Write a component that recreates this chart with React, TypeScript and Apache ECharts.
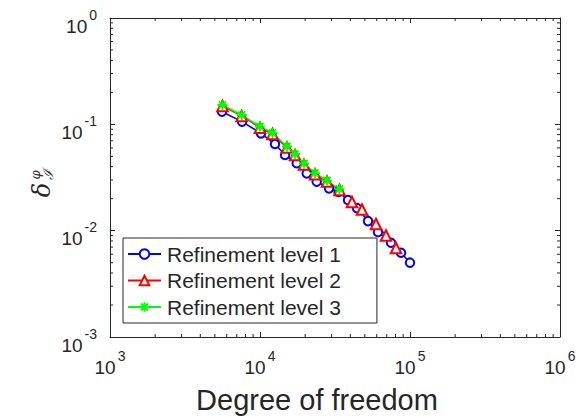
import React, { useEffect, useRef } from "react";
import * as echarts from "echarts";

// Degrees of freedom and error for each refinement level
const dofLevel1 = [5580, 7590, 10150, 12590, 14680, 17570, 20480, 23880, 28840, 33370, 38610, 44330, 52480, 61160, 74700, 87100, 100000];
const errLevel1 = [0.1315, 0.106, 0.0823, 0.0653, 0.0515, 0.043, 0.0346, 0.0289, 0.025, 0.0231, 0.0194, 0.0163, 0.0123, 0.0097, 0.0077, 0.0062, 0.005];

const dofLevel2 = [5620, 7550, 10000, 12120, 15140, 17110, 19650, 23260, 27970, 33880, 41050, 47860, 59330, 69180, 80650];
const errLevel2 = [0.149, 0.12, 0.093, 0.081, 0.0605, 0.0515, 0.0418, 0.034, 0.029, 0.0241, 0.0186, 0.0158, 0.01155, 0.009, 0.00687];

const dofLevel3 = [5620, 7550, 10000, 12120, 15140, 17110, 19650, 23260, 27970, 33880];
const errLevel3 = [0.152, 0.1224, 0.0954, 0.0829, 0.0619, 0.0526, 0.0428, 0.0348, 0.0296, 0.0246];

const seriesNames = ["Refinement level 1", "Refinement level 2", "Refinement level 3"];

// Axis ranges and minor tick layout for the log-log frame
const xRange = [1e3, 1e6];
const yRange = [1e-3, 1];
const xDecades = [1e3, 1e4, 1e5];
const yDecades = [1e-3, 1e-2, 1e-1];
const minorMultiples = [2, 3, 4, 5, 6, 7, 8, 9];

const FONT = "'Liberation Sans', Arial, Helvetica, sans-serif";
const INK = "#262626";

const asterisk = "path://M0,-5L0,5M-5,0L5,0M-3.6,-3.6L3.6,3.6M-3.6,3.6L3.6,-3.6";

function zip(xs: number[], ys: number[]) {
  return xs.map((x, i) => [x, ys[i]]);
}

function powerLabel(v: number) {
  const e = Math.round(Math.log10(v));
  return "{b|10}{s|" + e + "}";
}

export default function App() {
  const ref = useRef<HTMLDivElement>(null);

  useEffect(() => {
    if (!ref.current) return;
    const chart = echarts.init(ref.current, null, { renderer: "svg" });

    const minorData: number[][] = [];
    xDecades.forEach((d) => minorMultiples.forEach((m) => minorData.push([d * m, yRange[0], 0])));
    yDecades.forEach((d) => minorMultiples.forEach((m) => minorData.push([xRange[0], d * m, 1])));

    // "10" sits low, the exponent is raised beside it
    const powerRich = {
      b: { fontSize: 19, fontFamily: FONT, color: INK, lineHeight: 20, padding: [16, 0, 0, 0] },
      s: { fontSize: 14, fontFamily: FONT, color: INK, lineHeight: 14, padding: [0, 0, 7, 2] },
    };

    const axisLine = { show: true, lineStyle: { color: INK, width: 1 } };
    const axisTick = { show: true, inside: true, length: 5, lineStyle: { color: INK, width: 1 } };

    chart.setOption({
      animation: false,
      backgroundColor: "#ffffff",
      grid: { left: 110, right: 19, top: 18, bottom: 81, containLabel: false },
      xAxis: [
        {
          type: "log",
          logBase: 10,
          min: xRange[0],
          max: xRange[1],
          splitNumber: 3,
          axisLine,
          axisTick,
          splitLine: { show: false },
          axisLabel: { margin: 12, formatter: powerLabel, rich: powerRich, showMinLabel: true, showMaxLabel: true },
        },
        {
          type: "log",
          logBase: 10,
          position: "top",
          min: xRange[0],
          max: xRange[1],
          splitNumber: 3,
          axisLine,
          axisTick,
          splitLine: { show: false },
          axisLabel: { show: false },
        },
      ],
      yAxis: [
        {
          type: "log",
          logBase: 10,
          min: yRange[0],
          max: yRange[1],
          splitNumber: 3,
          axisLine,
          axisTick,
          splitLine: { show: false },
          axisLabel: { margin: 13, formatter: powerLabel, rich: powerRich, showMinLabel: true, showMaxLabel: true },
        },
        {
          type: "log",
          logBase: 10,
          position: "right",
          min: yRange[0],
          max: yRange[1],
          splitNumber: 3,
          axisLine,
          axisTick,
          splitLine: { show: false },
          axisLabel: { show: false },
        },
      ],
      legend: {
        data: seriesNames,
        orient: "vertical",
        left: 123,
        top: 238,
        padding: [5, 36, 5, 4],
        itemWidth: 33,
        itemHeight: 12,
        itemGap: 4.5,
        backgroundColor: "#ffffff",
        borderColor: INK,
        borderWidth: 1,
        borderRadius: 0,
        textStyle: { fontSize: 21, fontFamily: FONT, color: INK, lineHeight: 22, padding: [0, 0, 0, 1] },
      },
      graphic: [
        {
          type: "text",
          x: 317,
          y: 400,
          style: {
            text: "Degree of freedom",
            font: "29px " + FONT,
            fill: INK,
            align: "center",
            verticalAlign: "middle",
          },
        },
        {
          type: "group",
          x: 42,
          y: 183,
          rotation: Math.PI / 2,
          children: [
            {
              type: "text",
              x: -7,
              y: 0,
              style: { text: "δ", font: "italic 24px 'DejaVu Serif', serif", fill: INK, align: "center", verticalAlign: "middle" },
            },
            {
              type: "text",
              x: 8,
              y: -7,
              style: { text: "φ", font: "italic 13px 'DejaVu Serif', serif", fill: INK, align: "center", verticalAlign: "middle" },
            },
            {
              type: "text",
              x: 8,
              y: 6,
              style: { text: "ℐ", font: "italic 14px 'DejaVu Serif', serif", fill: INK, align: "center", verticalAlign: "middle" },
            },
          ],
        },
      ],
      series: [
        {
          name: "minor ticks",
          type: "custom",
          silent: true,
          clip: false,
          data: minorData,
          renderItem: (params: any, api: any) => {
            const v0 = api.value(0);
            const v1 = api.value(1);
            const kind = api.value(2);
            const len = 3;
            const style = { stroke: INK, lineWidth: 1 };
            if (kind === 0) {
              const a = api.coord([v0, yRange[0]]);
              const b = api.coord([v0, yRange[1]]);
              return {
                type: "group",
                children: [
                  { type: "line", shape: { x1: a[0], y1: a[1], x2: a[0], y2: a[1] - len }, style },
                  { type: "line", shape: { x1: b[0], y1: b[1], x2: b[0], y2: b[1] + len }, style },
                ],
              };
            }
            const a = api.coord([xRange[0], v1]);
            const b = api.coord([xRange[1], v1]);
            return {
              type: "group",
              children: [
                { type: "line", shape: { x1: a[0], y1: a[1], x2: a[0] + len, y2: a[1] }, style },
                { type: "line", shape: { x1: b[0], y1: b[1], x2: b[0] - len, y2: b[1] }, style },
              ],
            };
          },
        },
        {
          name: seriesNames[0],
          type: "line",
          data: zip(dofLevel1, errLevel1),
          color: "#0000ff",
          symbol: "emptyCircle",
          symbolSize: 8.5,
          lineStyle: { width: 1.6, color: "#0000ff" },
          itemStyle: { color: "#0000ff", borderColor: "#0000ff", borderWidth: 1.8 },
        },
        {
          name: seriesNames[1],
          type: "line",
          data: zip(dofLevel2, errLevel2),
          color: "#ff0000",
          symbol: "emptyTriangle",
          symbolSize: 10.5,
          lineStyle: { width: 1.6, color: "#ff0000" },
          itemStyle: { color: "#ff0000", borderColor: "#ff0000", borderWidth: 1.8 },
        },
        {
          name: seriesNames[2],
          type: "line",
          data: zip(dofLevel3, errLevel3),
          color: "#00ff00",
          symbol: asterisk,
          symbolSize: 10,
          lineStyle: { width: 1.6, color: "#00ff00" },
          itemStyle: { color: "#00ff00", borderColor: "#00ff00", borderWidth: 1.8 },
        },
      ],
    });

    return () => chart.dispose();
  }, []);

  return <div ref={ref} style={{ width: 579, height: 418, position: "absolute", left: 0, top: 0 }} />;
}
